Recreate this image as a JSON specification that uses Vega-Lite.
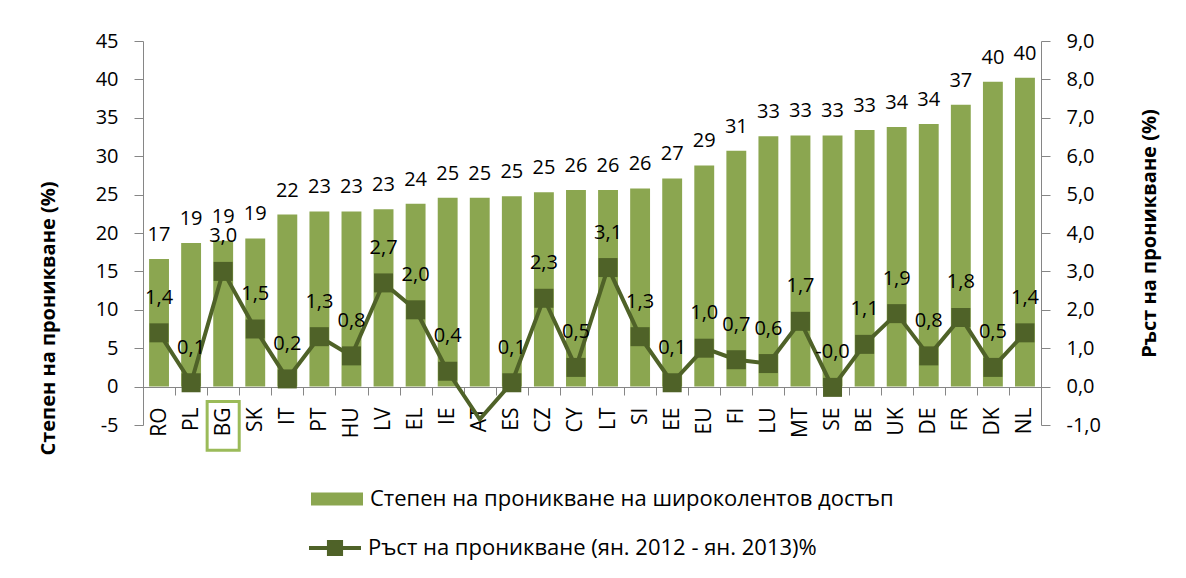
{
  "$schema": "https://vega.github.io/schema/vega-lite/v6.json",
  "width": 898,
  "height": 384,
  "autosize": {"type": "none"},
  "padding": {"left": 143, "top": 41, "right": 145, "bottom": 153},
  "background": "white",
  "config": {
    "view": {"stroke": null},
    "font": "Open Sans",
    "locale": {"number": {"decimal": ",", "thousands": " ", "grouping": [3], "currency": ["", ""], "minus": "-"}},
    "axis": {
      "labelFont": "Open Sans",
      "labelFontSize": 20,
      "labelColor": "#000000",
      "domainColor": "#868686",
      "tickColor": "#868686",
      "grid": false,
      "titleColor": "#000000",
      "titleFont": "Open Sans",
      "titleFontWeight": "bold",
      "titleFontSize": 20
    },
    "legend": {"labelFont": "Open Sans", "labelFontSize": 22, "labelColor": "#000000", "labelLimit": 0, "padding": 0, "labelOffset": 7}
  },
  "data": {
    "values": [
      {"country": "RO", "penetration": 16.6, "growth": 1.4, "growth_label": "1,4"},
      {"country": "PL", "penetration": 18.7, "growth": 0.1, "growth_label": "0,1"},
      {"country": "BG", "penetration": 19.0, "growth": 3.0, "growth_label": "3,0"},
      {"country": "SK", "penetration": 19.3, "growth": 1.5, "growth_label": "1,5"},
      {"country": "IT", "penetration": 22.4, "growth": 0.2, "growth_label": "0,2"},
      {"country": "PT", "penetration": 22.8, "growth": 1.3, "growth_label": "1,3"},
      {"country": "HU", "penetration": 22.8, "growth": 0.8, "growth_label": "0,8"},
      {"country": "LV", "penetration": 23.1, "growth": 2.7, "growth_label": "2,7"},
      {"country": "EL", "penetration": 23.8, "growth": 2.0, "growth_label": "2,0"},
      {"country": "IE", "penetration": 24.6, "growth": 0.4, "growth_label": "0,4"},
      {"country": "AT", "penetration": 24.6, "growth": -0.85, "growth_label": ""},
      {"country": "ES", "penetration": 24.8, "growth": 0.1, "growth_label": "0,1"},
      {"country": "CZ", "penetration": 25.3, "growth": 2.3, "growth_label": "2,3"},
      {"country": "CY", "penetration": 25.6, "growth": 0.5, "growth_label": "0,5"},
      {"country": "LT", "penetration": 25.6, "growth": 3.1, "growth_label": "3,1"},
      {"country": "SI", "penetration": 25.8, "growth": 1.3, "growth_label": "1,3"},
      {"country": "EE", "penetration": 27.1, "growth": 0.1, "growth_label": "0,1"},
      {"country": "EU", "penetration": 28.8, "growth": 1.0, "growth_label": "1,0"},
      {"country": "FI", "penetration": 30.7, "growth": 0.7, "growth_label": "0,7"},
      {"country": "LU", "penetration": 32.6, "growth": 0.6, "growth_label": "0,6"},
      {"country": "MT", "penetration": 32.7, "growth": 1.7, "growth_label": "1,7"},
      {"country": "SE", "penetration": 32.7, "growth": -0.02, "growth_label": "-0,0"},
      {"country": "BE", "penetration": 33.4, "growth": 1.1, "growth_label": "1,1"},
      {"country": "UK", "penetration": 33.8, "growth": 1.9, "growth_label": "1,9"},
      {"country": "DE", "penetration": 34.2, "growth": 0.8, "growth_label": "0,8"},
      {"country": "FR", "penetration": 36.7, "growth": 1.8, "growth_label": "1,8"},
      {"country": "DK", "penetration": 39.7, "growth": 0.5, "growth_label": "0,5"},
      {"country": "NL", "penetration": 40.2, "growth": 1.4, "growth_label": "1,4"}
    ]
  },
  "encoding": {
    "x": {
      "field": "country",
      "type": "nominal",
      "sort": null,
      "scale": {"paddingInner": 0, "paddingOuter": 0},
      "axis": {
        "title": null,
        "offset": -38,
        "labelAngle": -90,
        "tickBand": "extent",
        "tickSize": 8,
        "labelPadding": 12,
        "labelFontSize": 21,
        "domainWidth": 1
      }
    }
  },
  "layer": [
    {
      "encoding": {
        "y": {
          "field": "penetration",
          "type": "quantitative",
          "scale": {"domain": [-5, 45], "nice": false, "zero": false},
          "axis": {
            "orient": "left",
            "values": [-5, 0, 5, 10, 15, 20, 25, 30, 35, 40, 45],
            "tickSize": 9,
            "labelPadding": 16,
            "title": "Степен на проникване (%)",
            "titleAngle": -90,
            "titleX": -95,
            "titleY": 277,
            "titleAlign": "center",
            "titleBaseline": "middle"
          }
        }
      },
      "layer": [
        {
          "mark": {"type": "bar", "width": {"band": 0.62}},
          "encoding": {
            "fill": {
              "datum": "Степен на проникване на широколентов достъп",
              "scale": {"range": ["#8ba650"]},
              "legend": {
                "orient": "none",
                "legendX": 168,
                "legendY": 432,
                "title": null,
                "symbolType": "M-1,-0.25H1V0.25H-1Z",
                "symbolSize": 2704,
                "symbolStrokeWidth": 0
              }
            }
          }
        },
        {
          "mark": {"type": "text", "dy": -18, "baseline": "alphabetic", "fontSize": 20, "color": "#000000"},
          "encoding": {"text": {"field": "penetration", "type": "quantitative", "format": ".0f"}}
        },
        {
          "transform": [{"filter": "datum.country === 'BG'"}],
          "mark": {"type": "bar", "filled": false, "stroke": "#9bbb59", "strokeWidth": 3, "width": {"band": 1}},
          "encoding": {"y": {"datum": -1.95}, "y2": {"datum": -8.3}}
        }
      ]
    },
    {
      "encoding": {
        "y": {
          "field": "growth",
          "type": "quantitative",
          "scale": {"domain": [-1, 9], "nice": false, "zero": false},
          "axis": {
            "orient": "right",
            "values": [-1, 0, 1, 2, 3, 4, 5, 6, 7, 8, 9],
            "format": ".1f",
            "tickSize": 9,
            "labelPadding": 16,
            "title": "Ръст на проникване (%)",
            "titleAngle": 270,
            "titleX": 108,
            "titleY": 192,
            "titleAlign": "center",
            "titleBaseline": "middle"
          }
        }
      },
      "layer": [
        {
          "mark": {"type": "line", "strokeWidth": 4},
          "encoding": {
            "stroke": {
              "datum": "Ръст на проникване (ян. 2012 - ян. 2013)%",
              "scale": {"range": ["#4f6228"]},
              "legend": {
                "orient": "none",
                "legendX": 166,
                "legendY": 481,
                "title": null,
                "symbolType": "M-1,-0.08H1V0.08H-1Z M-0.31,-0.31H0.31V0.31H-0.31Z",
                "symbolSize": 2704,
                "symbolFillColor": "#4f6228",
                "symbolStrokeWidth": 0,
                "encode": {"symbols": {"update": {"fill": {"value": "#4f6228"}, "strokeWidth": {"value": 0}}}}
              }
            }
          }
        },
        {
          "transform": [{"filter": "datum.country !== 'AT'"}],
          "mark": {"type": "square", "size": 361, "filled": true, "color": "#4f6228", "opacity": 1}
        },
        {
          "transform": [{"filter": "datum.country !== 'AT'"}],
          "mark": {"type": "text", "dy": -29, "baseline": "alphabetic", "fontSize": 20, "color": "#000000"},
          "encoding": {"text": {"field": "growth_label", "type": "nominal"}}
        }
      ]
    }
  ],
  "resolve": {"scale": {"y": "independent"}}
}
